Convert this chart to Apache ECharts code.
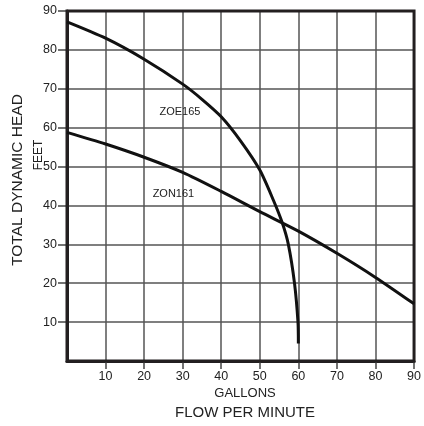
<!DOCTYPE html>
<html>
<head>
<meta charset="utf-8">
<script src="https://cdn.jsdelivr.net/npm/echarts@6/dist/echarts.min.js"></script>
<style>
html,body{margin:0;padding:0;background:#fff;}
#c{width:424px;height:426px;}
</style>
</head>
<body>
<div id="c"></div>
<script>
// Data
var zoe165 = [[0,87.2],[10,83.0],[20,77.6],[30,71.2],[35,67.3],[40,62.8],[45,56.6],[50,49.1],[53.5,41.4],[55.8,35.6],[57.4,30],[59,20],[59.9,10],[60,4.5]];
var zon161 = [[0,58.8],[10,55.8],[20,52.4],[30,48.5],[40,43.6],[50,38.4],[60,33.4],[70,27.7],[80,21.5],[90,14.7]];
var xTicks = [10,20,30,40,50,60,70,80,90];
var yTicks = [10,20,30,40,50,60,70,80,90];
var seriesNames = ['ZOE165','ZON161'];
var labelPos = [[29.3,64.0],[27.6,42.9]];

var chart = echarts.init(document.getElementById('c'), null, {renderer:'canvas'});
var FONT = 'Liberation Sans';
function curve(name, data, lp){
  return {
    type:'line', name:name, data:data, smooth:0.25,
    symbol:'none', lineStyle:{color:'#111', width:3}, z:5,
    markPoint:{
      symbol:'circle', symbolSize:0, silent:true,
      data:[{coord:lp, value:name}],
      label:{show:true, position:'inside', formatter:name, color:'#222', fontFamily:FONT, fontSize:11}
    }
  };
}
chart.setOption({
  animation:false,
  backgroundColor:'#fff',
  grid:{left:67, right:7, top:11, bottom:65, show:true, borderColor:'#231f20', borderWidth:3, backgroundColor:'transparent', z:3},
  xAxis:{
    type:'value', min:0, max:90, interval:10,
    axisLine:{show:true, lineStyle:{color:'#231f20', width:3}},
    axisTick:{show:true, length:8, customValues:xTicks, lineStyle:{color:'#444', width:1.5}},
    axisLabel:{color:'#222', fontFamily:FONT, fontSize:12.5, margin:9, customValues:xTicks},
    splitLine:{show:true, lineStyle:{color:'#555', width:1.5}}
  },
  yAxis:{
    type:'value', min:0, max:90, interval:10,
    axisLine:{show:true, lineStyle:{color:'#231f20', width:3}},
    axisTick:{show:true, length:9, customValues:yTicks, lineStyle:{color:'#444', width:1.5}},
    axisLabel:{color:'#222', fontFamily:FONT, fontSize:12.5, margin:10, customValues:yTicks},
    splitLine:{show:true, lineStyle:{color:'#555', width:1.5}}
  },
  graphic:[
    {type:'text', style:{text:'TOTAL DYNAMIC HEAD', font:'15.5px "Liberation Sans"', fill:'#222', textAlign:'center', textVerticalAlign:'middle'}, x:18, y:180, rotation:Math.PI/2},
    {type:'text', style:{text:'FEET', font:'12px "Liberation Sans"', fill:'#222', textAlign:'center', textVerticalAlign:'middle'}, x:39, y:155, rotation:Math.PI/2},
    {type:'text', style:{text:'GALLONS', font:'13px "Liberation Sans"', fill:'#222', textAlign:'center', textVerticalAlign:'middle'}, x:245, y:393},
    {type:'text', style:{text:'FLOW PER MINUTE', font:'15px "Liberation Sans"', fill:'#222', textAlign:'center', textVerticalAlign:'middle'}, x:245, y:413}
  ],
  series:[curve(seriesNames[0], zoe165, labelPos[0]), curve(seriesNames[1], zon161, labelPos[1])]
});
</script>
</body>
</html>
